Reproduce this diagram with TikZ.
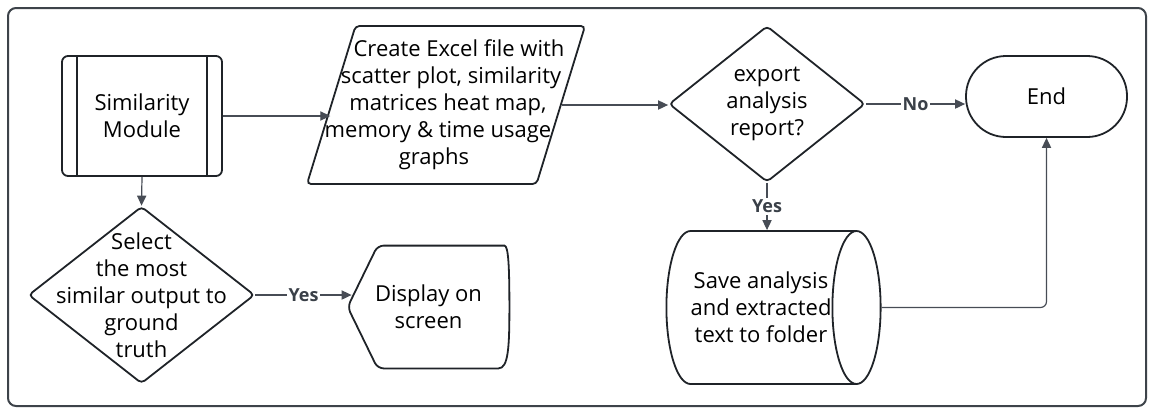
\documentclass[tikz,border=0pt]{standalone}
\usepackage{fontspec}
\setmainfont{Open Sans}
\usepackage{tikz}
\usetikzlibrary{shapes.geometric, arrows.meta, calc}
\definecolor{framegray}{HTML}{3D434A}
\definecolor{edgegray}{HTML}{474C55}
\definecolor{ink}{HTML}{1F2328}
\definecolor{labelgray}{HTML}{3A4048}

\begin{document}
\begin{tikzpicture}[x=0.5pt, y=-0.5pt, >={Triangle[length=5pt, width=4.6pt]},
    every node/.style={font=\fontsize{11}{13.5}\selectfont, text=black, align=center},
    block/.style={draw=ink, line width=0.9pt, rounded corners=3pt, minimum width=80pt, minimum height=60pt},
    io/.style={draw=ink, line width=0.9pt, trapezium, trapezium left angle=75, trapezium right angle=105,
      trapezium stretches=true, rounded corners=2pt, minimum width=139pt, minimum height=79pt, inner sep=1pt},
    decision/.style={draw=ink, line width=0.9pt, diamond, rounded corners=2pt, inner sep=1pt},
    terminal/.style={draw=ink, line width=0.9pt, rectangle, rounded corners=20pt, minimum width=80.5pt, minimum height=40.5pt},
    store/.style={draw=ink, line width=0.9pt, cylinder, aspect=0.68, minimum width=76.5pt, minimum height=96pt, inner sep=0pt},
    flow/.style={->, edgegray, line width=0.6pt},
    answer/.style={fill=white, text=labelgray, font=\fontsize{9}{10}\selectfont\bfseries, inner sep=1pt}]
  \useasboundingbox (0,0) rectangle (1154,414);
  \draw[framegray, line width=1pt, rounded corners=4pt] (8,8) rectangle (1146,406);

  % shapes
  \node[block] (sim) at (142,116) {Similarity\\Module};
  \draw[ink, line width=0.9pt] ([xshift=8pt]sim.north west) -- ([xshift=8pt]sim.south west)
    ([xshift=-8pt]sim.north east) -- ([xshift=-8pt]sim.south east);
  \node[io, label={center:\rule{13pt}{0pt}Create Excel file with\\\rule{5pt}{0pt}scatter plot, similarity\\\rule{2pt}{0pt}matrices heat map,\\memory \& time usage\rule{8pt}{0pt}\\graphs\rule{12pt}{0pt}}] (excel) at (446,105) {};
  \node[decision, minimum width=98pt, minimum height=78pt, label={center:export\\analysis\\report?}] (export) at (767,104) {};
  \node[terminal] (end) at (1046.5,96.5) {End};
  \node[store] (save) at (761,307.5) {Save analysis\\and extracted\\text to folder};
  \node[decision, minimum width=113pt, minimum height=88.5pt, label={center:Select\\the most\\similar output to\\ground\\truth}] (sel) at (141.5,295) {};
  \node[minimum width=80.5pt, minimum height=61pt] (disp) at (428.5,307) {Display on\\screen};
  \draw[ink, line width=0.9pt, rounded corners=3pt] (disp.west) -- ($(disp.north west)+(30,0)$) -- ($(disp.north east)+(-11,0)$)
    [sharp corners] .. controls ($(disp.north east)+(-1,0)$) and ($(disp.east)+(0,-40)$) .. (disp.east)
    .. controls ($(disp.east)+(0,40)$) and ($(disp.south east)+(-1,0)$) .. ($(disp.south east)+(-11,0)$)
    [rounded corners=3pt] -- ($(disp.south west)+(30,0)$) -- cycle;

  % connectors
  \path[flow]
    (sim.east) edge (sim.east -| excel.west)
    (excel.east) edge (excel.east -| export.west)
    (export.east) edge node[answer] {No} (export.east -| end.west)
    (export.south) edge node[answer] {Yes} (export.south |- save.north)
    (sim.south) edge (sel.north)
    (sel.east) edge node[answer] {Yes} ([xshift=2pt]sel.east -| disp.west)
    (save.east) edge[rounded corners=3pt, to path={-| (\tikztotarget)}] (end.south);
\end{tikzpicture}
\end{document}
